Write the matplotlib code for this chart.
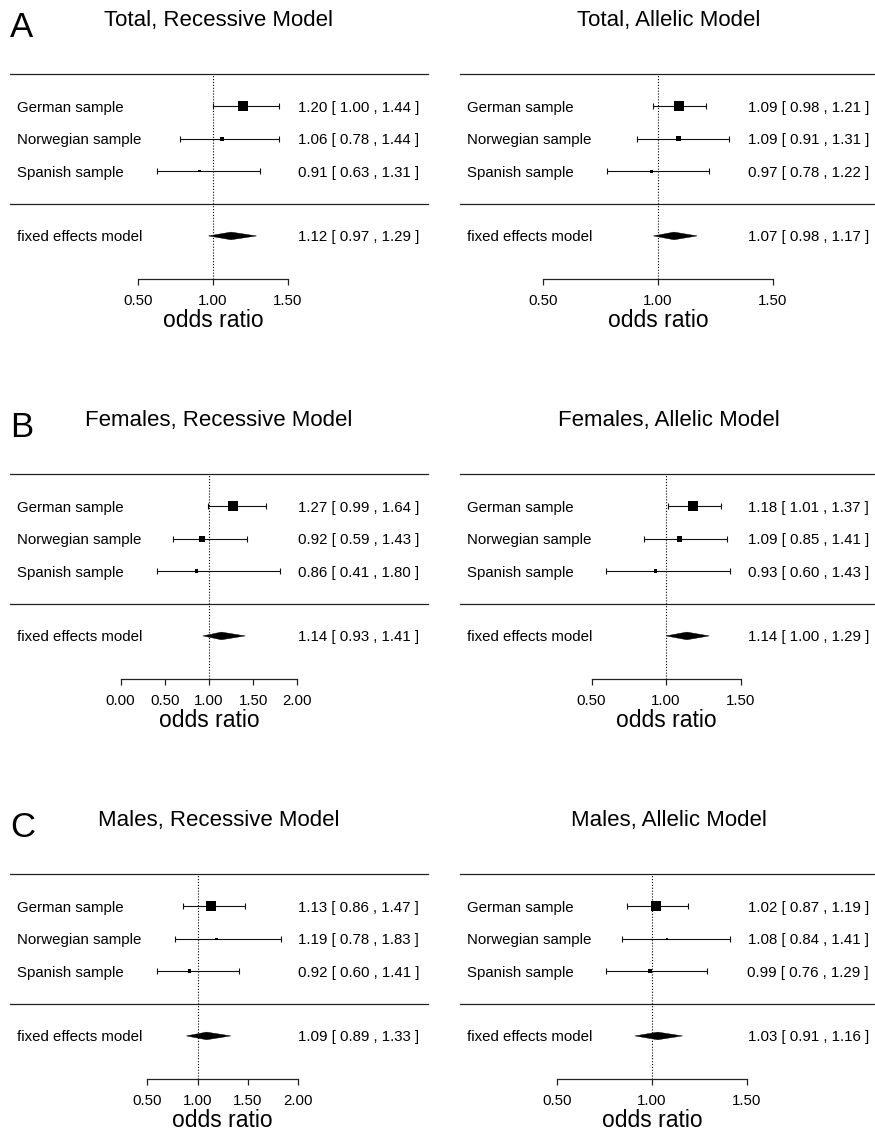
import matplotlib
matplotlib.use("Agg")
import matplotlib.pyplot as plt
from matplotlib.patches import Polygon
import numpy as np

plt.rcParams['font.family'] = ['Liberation Sans', 'DejaVu Sans']

# ---------------- data ----------------
studies = ["German sample", "Norwegian sample", "Spanish sample"]
pooled_label = "fixed effects model"
x_label = "odds ratio"
panel_letters = ["A", "B", "C"]

total_rec_title = "Total, Recessive Model"
total_rec_or = [1.20, 1.06, 0.91]
total_rec_lo = [1.00, 0.78, 0.63]
total_rec_hi = [1.44, 1.44, 1.31]
total_rec_weight = [100, 18, 4.5]
total_rec_fixed = [1.12, 0.97, 1.29]
total_rec_ticks = [0.50, 1.00, 1.50]

total_all_title = "Total, Allelic Model"
total_all_or = [1.09, 1.09, 0.97]
total_all_lo = [0.98, 0.91, 0.78]
total_all_hi = [1.21, 1.31, 1.22]
total_all_weight = [100, 22, 9]
total_all_fixed = [1.07, 0.98, 1.17]
total_all_ticks = [0.50, 1.00, 1.50]

fem_rec_title = "Females, Recessive Model"
fem_rec_or = [1.27, 0.92, 0.86]
fem_rec_lo = [0.99, 0.59, 0.41]
fem_rec_hi = [1.64, 1.43, 1.80]
fem_rec_weight = [100, 32, 11]
fem_rec_fixed = [1.14, 0.93, 1.41]
fem_rec_ticks = [0.00, 0.50, 1.00, 1.50, 2.00]

fem_all_title = "Females, Allelic Model"
fem_all_or = [1.18, 1.09, 0.93]
fem_all_lo = [1.01, 0.85, 0.60]
fem_all_hi = [1.37, 1.41, 1.43]
fem_all_weight = [100, 32, 11]
fem_all_fixed = [1.14, 1.00, 1.29]
fem_all_ticks = [0.50, 1.00, 1.50]

male_rec_title = "Males, Recessive Model"
male_rec_or = [1.13, 1.19, 0.92]
male_rec_lo = [0.86, 0.78, 0.60]
male_rec_hi = [1.47, 1.83, 1.41]
male_rec_weight = [100, 6, 12]
male_rec_fixed = [1.09, 0.89, 1.33]
male_rec_ticks = [0.50, 1.00, 1.50, 2.00]

male_all_title = "Males, Allelic Model"
male_all_or = [1.02, 1.08, 0.99]
male_all_lo = [0.87, 0.84, 0.76]
male_all_hi = [1.19, 1.41, 1.29]
male_all_weight = [100, 6, 12]
male_all_fixed = [1.03, 0.91, 1.16]
male_all_ticks = [0.50, 1.00, 1.50]

panels = [
    dict(title=total_rec_title, est=total_rec_or, lo=total_rec_lo, hi=total_rec_hi,
         w=total_rec_weight, fixed=total_rec_fixed, ticks=total_rec_ticks),
    dict(title=total_all_title, est=total_all_or, lo=total_all_lo, hi=total_all_hi,
         w=total_all_weight, fixed=total_all_fixed, ticks=total_all_ticks),
    dict(title=fem_rec_title, est=fem_rec_or, lo=fem_rec_lo, hi=fem_rec_hi,
         w=fem_rec_weight, fixed=fem_rec_fixed, ticks=fem_rec_ticks),
    dict(title=fem_all_title, est=fem_all_or, lo=fem_all_lo, hi=fem_all_hi,
         w=fem_all_weight, fixed=fem_all_fixed, ticks=fem_all_ticks),
    dict(title=male_rec_title, est=male_rec_or, lo=male_rec_lo, hi=male_rec_hi,
         w=male_rec_weight, fixed=male_rec_fixed, ticks=male_rec_ticks),
    dict(title=male_all_title, est=male_all_or, lo=male_all_lo, hi=male_all_hi,
         w=male_all_weight, fixed=male_all_fixed, ticks=male_all_ticks),
]

# ---------------- layout (pixels) ----------------
FW, FH = 875, 1134
row_tops = [74, 474, 874]
axis_drop = 205
col_lefts = [10, 460]
panel_w = 418
# x-limits of each panel (odds-ratio scale spanning the panel width)
xlims = [(-0.353, 2.433), (0.139, 1.957),
         (-1.249, 3.475), (-0.383, 2.423),
         (-0.862, 3.289), (-0.0105, 2.189)]
y_bottom = 6.33
max_box_pt = 7.3
px = 72.0 / 100.0  # points per pixel

fig = plt.figure(figsize=(FW / 100, FH / 100), dpi=100)

for i, p in enumerate(panels):
    r, c = divmod(i, 2)
    top = row_tops[r]
    left = col_lefts[c]
    ax = fig.add_axes([left / FW, 1 - (top + axis_drop) / FH,
                       panel_w / FW, axis_drop / FH])
    ax.set_xlim(*xlims[i])
    ax.set_ylim(y_bottom, 0)
    for s in ['top', 'left', 'right']:
        ax.spines[s].set_visible(False)
    ax.set_yticks([])
    ticks = p['ticks']
    ax.set_xticks(ticks)
    ax.set_xticklabels([f"{t:.2f}" for t in ticks])
    ax.spines['bottom'].set_bounds(ticks[0], ticks[-1])
    ax.spines['bottom'].set_linewidth(0.9)
    ax.spines['bottom'].set_color('#222222')
    ax.tick_params(axis='x', direction='out', length=6 * px, width=0.9,
                   labelsize=10.8, pad=6.5, color='#222222')
    ax.patch.set_visible(False)

    # separator lines
    ax.axhline(0, color='#222222', lw=0.9, clip_on=False)
    ax.axhline(4, color='#222222', lw=0.9, clip_on=False)
    # reference line
    ax.axvline(1.0, color='black', lw=0.8, ls=(0, (1, 1.6)))

    ys = np.arange(1, len(studies) + 1)
    est = np.array(p['est'])
    lo = np.array(p['lo'])
    hi = np.array(p['hi'])
    ax.errorbar(est, ys, xerr=[est - lo, hi - est], fmt='none', ecolor='#111111',
                elinewidth=0.8, capsize=2.2, capthick=0.8)
    w = np.array(p['w'], dtype=float)
    sizes = (max_box_pt * np.sqrt(w / w.max())) ** 2
    ax.scatter(est, ys, s=sizes, marker='s', color='black', linewidths=0, zorder=3)

    # pooled diamond
    f_est, f_lo, f_hi = p['fixed']
    yd = 5
    hh = 0.118
    ax.add_patch(Polygon([(f_lo, yd), (f_est, yd - hh), (f_hi, yd), (f_est, yd + hh)],
                         closed=True, facecolor='black', edgecolor='black', lw=0.3,
                         zorder=3))

    # labels and numbers
    dy = -1.5 * px
    for yv, name, e, l, h in zip(ys, studies, est, lo, hi):
        ax.annotate(name, xy=(0, yv), xycoords=('axes fraction', 'data'),
                    xytext=(7 * px, dy), textcoords='offset points',
                    ha='left', va='center', fontsize=10.8)
        ax.annotate(f"{e:.2f} [ {l:.2f} , {h:.2f} ]", xy=(1, yv),
                    xycoords=('axes fraction', 'data'),
                    xytext=(-9 * px, dy), textcoords='offset points',
                    ha='right', va='center', fontsize=10.8)
    ax.annotate(pooled_label, xy=(0, yd), xycoords=('axes fraction', 'data'),
                xytext=(7 * px, dy), textcoords='offset points',
                ha='left', va='center', fontsize=10.8)
    ax.annotate(f"{f_est:.2f} [ {f_lo:.2f} , {f_hi:.2f} ]", xy=(1, yd),
                xycoords=('axes fraction', 'data'),
                xytext=(-9 * px, dy), textcoords='offset points',
                ha='right', va='center', fontsize=10.8)

    # x label centred on the tick range
    ax.annotate(x_label, xy=((ticks[0] + ticks[-1]) / 2, 0),
                xycoords=('data', 'axes fraction'),
                xytext=(0, -48 * px), textcoords='offset points',
                ha='center', va='baseline', fontsize=16.5)

    # title
    fig.text((left + panel_w / 2) / FW, 1 - (top - 48) / FH, p['title'],
             ha='center', va='baseline', fontsize=16)
    if c == 0:
        fig.text(10 / FW, 1 - (top - 37) / FH, panel_letters[r],
                 ha='left', va='baseline', fontsize=25)

fig.savefig("out.png", dpi=100)
